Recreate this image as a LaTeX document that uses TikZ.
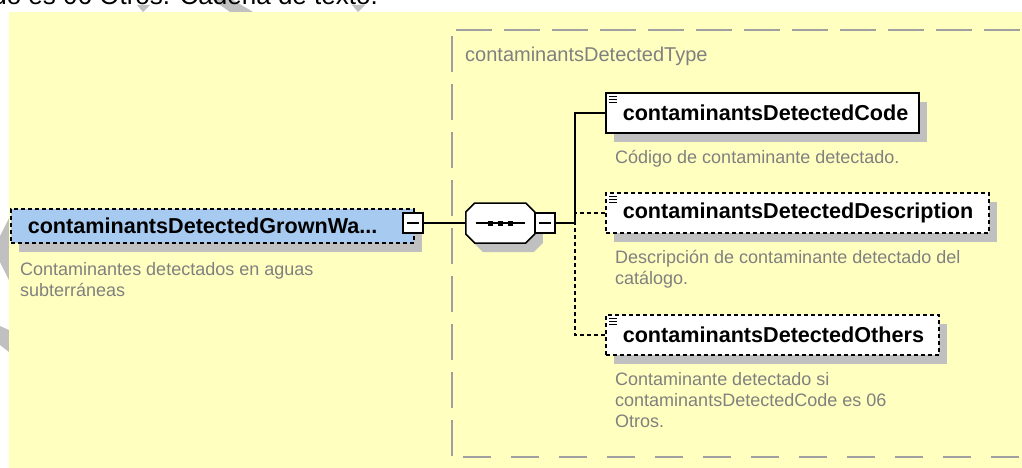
\documentclass[tikz,border=0pt]{standalone}
\usepackage{fontspec}
\setmainfont{Liberation Sans}
\usetikzlibrary{calc}
\usetikzlibrary{positioning}
\usetikzlibrary{shadows}

\definecolor{xsdyellow}{RGB}{255,255,192}
\definecolor{xsdblue}{RGB}{166,202,240}
\definecolor{xsdframe}{RGB}{160,160,160}
\definecolor{xsdnote}{RGB}{128,128,128}
\definecolor{xsdshadow}{RGB}{192,192,192}

\tikzset{
  elem/.style={draw=black,line width=1.5pt,fill=white,minimum height=40pt,
    inner xsep=17pt,inner ysep=0pt,align=left,anchor=west,
    font=\fontsize{21.6}{24}\selectfont\bfseries,
    drop shadow={shadow xshift=8pt,shadow yshift=-9pt,opacity=1,fill=xsdshadow}},
  optional/.style={dash pattern=on 4pt off 3pt},
  note/.style={text=xsdnote,font=\fontsize{18}{21}\selectfont,anchor=base west,
    inner sep=0pt,align=left},
  collapse/.style={draw=black,line width=1.2pt,fill=white,minimum size=20pt,inner sep=0pt,
    path picture={\draw[line width=1.2pt] ([xshift=4pt]path picture bounding box.west)
      -- ([xshift=-4pt]path picture bounding box.east);}},
  seqbox/.style={minimum width=69pt,minimum height=40pt,inner sep=0pt},
  link/.style={line width=1.5pt},
  frame/.style={draw=xsdframe,line width=2pt,dash pattern=on 36pt off 12pt},
  wmark/.style={fill=xsdshadow},
}

\begin{document}
\begin{tikzpicture}[x=1pt,y=-1pt]
    \useasboundingbox (0,0) rectangle (1022,468);

    % watermark pieces in the margin
    \fill[wmark] (213,0) -- (233,0) -- (253,12) -- (230,12) -- cycle;
    \fill[wmark] (137,5) -- (150,5) -- (143,12) -- cycle;
    \fill[wmark] (352,5) -- (365,5) -- (358,12) -- cycle;
    \fill[wmark] (9,218) -- (0,236) -- (0,262) -- (9,280) -- cycle;
    \fill[wmark] (0,326) -- (9,330) -- (9,352) -- (0,345) -- cycle;

    \node[anchor=base east,inner sep=0pt,font=\fontsize{26}{28}\selectfont] (cut) at (378,5)
    {ado es 06 Otros. Cadena de texto.};

    \fill[xsdyellow] (9,12) rectangle (1022,468);

    % complex type frame
    \draw[frame] (452,36) -- (452,458);
    \draw[frame] (456,30) -- (1040,30);
    \draw[frame,dash pattern=on 28pt off 20pt] (463,457) -- (1040,457);
    \node[anchor=base west,inner sep=0pt,text=xsdnote,font=\fontsize{20}{24}\selectfont]
    (typename) at (465,62) {contaminantsDetectedType};

    % root element
    \node[elem,optional,fill=xsdblue,minimum height=34pt,text width=369pt]
    (grown) at (10,226) {contaminantsDetectedGrownWa...};
    \node[collapse] (growncol) at (413,223) {};
    \node[note] (grownnote) at (20,296)
    {Contaminantes detectados en aguas\\subterráneas};

    % sequence
    \node[seqbox] (seq) at (500.5,223) {};
    \fill[xsdshadow] ([shift={(8,9)}]seq.west) ++(0,-11) -- ++(9,-9) -- ++(51,0)
      -- ++(9,9) -- ++(0,22) -- ++(-9,9) -- ++(-51,0) -- ++(-9,-9) -- cycle;
    \draw[link,fill=white] (seq.west) ++(0,-11) -- ++(9,-9) -- ++(51,0)
      -- ++(9,9) -- ++(0,22) -- ++(-9,9) -- ++(-51,0) -- ++(-9,-9) -- cycle;
    \draw[link] ([xshift=10pt]seq.west) -- ([xshift=-10pt]seq.east);
    \foreach \dx in {-10,0,10}
    \fill ([xshift=\dx pt]seq.center) +(-2.5,-2.5) rectangle +(2.5,2.5);
    \node[collapse] (seqcol) at (545,223) {};
    \coordinate (fork) at (575,223);

    % child elements
    \node[elem,text width=279pt] (code) at (605,113) {contaminantsDetectedCode};
    \node[elem,optional,text width=349pt] (descr) at (605,213)
    {contaminantsDetectedDescription};
    \node[elem,optional,text width=299pt] (others) at (605,335)
    {contaminantsDetectedOthers};

    \foreach \n in {code,descr,others}
    \foreach \k in {0,1,2}
    \draw[line width=1pt] ([xshift=4pt,yshift={-(4+3*\k)*1pt}]\n.north west) -- ++(8,0);

    \node[note] (codenote) at (615,163) {Código de contaminante detectado.};
    \node[note] (descrnote) at (615,284)
    {Descripción de contaminante detectado del\\catálogo.};
    \node[note] (othersnote) at (615,427)
    {Contaminante detectado si\\contaminantsDetectedCode es 06\\Otros.};

    % connectors
    \draw[link] (growncol.east) -- (seq.west);
    \draw[link] (seqcol.east) -- (fork);
    \draw[link] (code.west) -| (fork);
    \draw[link,optional] (descr.west) -- (descr.west -| fork);
    \draw[link,optional] (others.west) -| (fork);

  \end{tikzpicture}
\end{document}
